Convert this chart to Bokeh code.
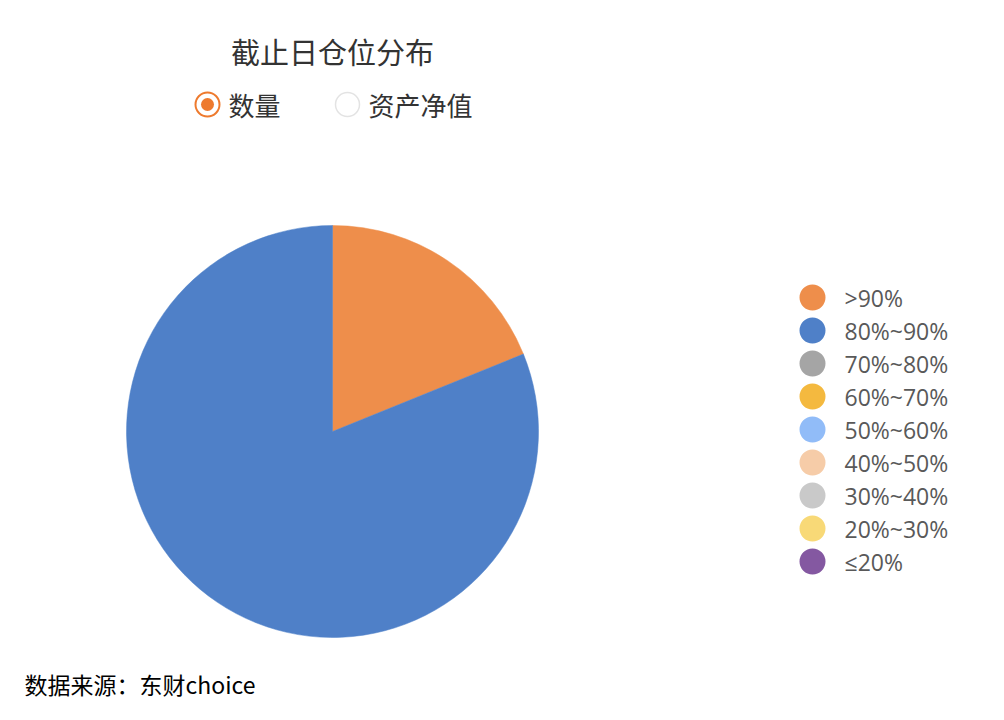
import math
from bokeh.plotting import figure
from bokeh.models import Range1d, ColumnDataSource
from bokeh.core.properties import value
from bokeh.embed import file_html
from bokeh.resources import INLINE

# ---- data ----
title = "截止日仓位分布"
toggle_labels = ["数量", "资产净值"]
categories = [">90%", "80%~90%", "70%~80%", "60%~70%", "50%~60%",
              "40%~50%", "30%~40%", "20%~30%", "≤20%"]
counts = [10, 43, 0, 0, 0, 0, 0, 0, 0]
colors = ["#EE8E4B", "#4F80C8", "#A5A5A5", "#F4B93F", "#91BCF8",
          "#F6CCA8", "#C9C9C9", "#F8D977", "#8458A1"]
source_note = "数据来源：东财choice"

W, H = 988, 704
p = figure(width=W, height=H, output_backend="svg", toolbar_location=None,
           x_range=Range1d(0, W), y_range=Range1d(720 - H, 720),
           min_border=0, outline_line_color=None)
p.axis.visible = False
p.grid.visible = False
p.background_fill_color = "white"

CJK = value("Noto Sans CJK SC")

def Y(y):
    return 720 - y

# title
p.text(x=[332], y=[Y(50)], text=[title], text_font=CJK, text_font_size="29px",
       text_color="#333333", text_align="center", text_baseline="middle")

# toggle (radio-like legend)
p.scatter(x=[207], y=[Y(104)], size=24, marker="circle", fill_color="white",
          line_color="#EE7A2E", line_width=2)
p.scatter(x=[207], y=[Y(104)], size=13, marker="circle", fill_color="#EE7A2E",
          line_color=None)
p.scatter(x=[347], y=[Y(104)], size=24, marker="circle", fill_color="white",
          line_color="#E3E3E3", line_width=1.5)
p.text(x=[228, 368], y=[Y(104), Y(104)], text=toggle_labels, text_font=CJK,
       text_font_size="26px", text_color="#333333", text_align="left",
       text_baseline="middle")

# pie
total = sum(counts)
starts, ends, cols = [], [], []
cum = 0.0
for v, c in zip(counts, colors):
    if v <= 0:
        continue
    a0 = math.pi / 2 - 2 * math.pi * cum / total
    cum += v
    a1 = math.pi / 2 - 2 * math.pi * cum / total
    starts.append(a0)
    ends.append(a1)
    cols.append(c)
src = ColumnDataSource(dict(start=starts, end=ends, color=cols))
p.wedge(x=332, y=Y(431), radius=206, start_angle="start", end_angle="end",
        direction="clock", fill_color="color", line_color="color",
        line_width=0.5, source=src)

# legend
ly = [Y(297 + 33 * i) for i in range(len(categories))]
p.scatter(x=[812] * len(categories), y=ly, size=26, marker="circle",
          fill_color=colors, line_color=None)
p.text(x=[844] * len(categories), y=ly, text=categories,
       text_font=value("Open Sans"), text_font_size="23px",
       text_color="#595959", text_align="left", text_baseline="middle")

# footer
p.text(x=[24], y=[Y(683)], text=[source_note], text_font=CJK,
       text_font_size="23px", text_color="#000000", text_align="left",
       text_baseline="middle")

open("out.html", "w").write(file_html(p, INLINE))
